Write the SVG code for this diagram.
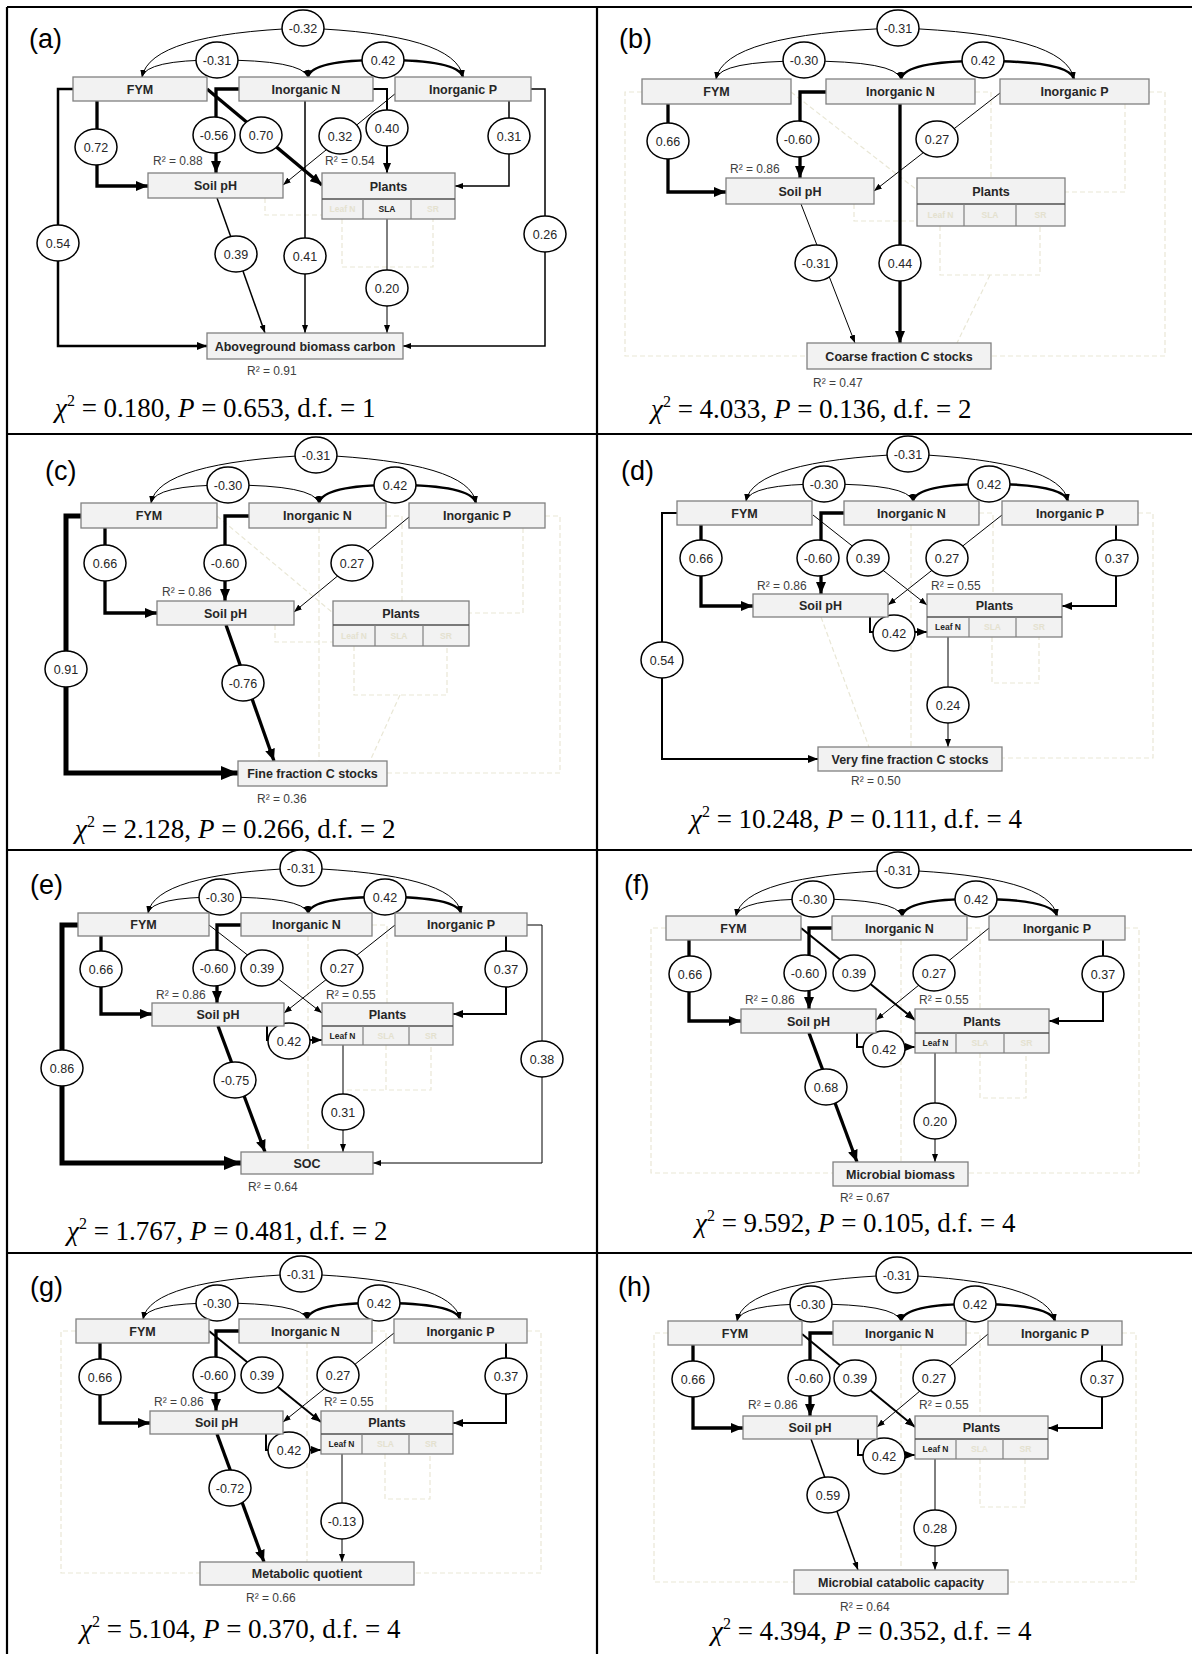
<svg xmlns="http://www.w3.org/2000/svg" width="1192" height="1654" viewBox="0 0 1192 1654">
<style>
.bg{fill:#fff}
.frame{stroke:#000;stroke-width:2.2;fill:none}
.box{fill:#f2f2f2;stroke:#808080;stroke-width:1.3}
.sep{stroke:#505050;stroke-width:1.6}
.cell{stroke:#808080;stroke-width:1.2}
.bl{font-family:"Liberation Sans",Arial,sans-serif;font-weight:bold;font-size:12.5px;fill:#262626;text-anchor:middle}
.sl{font-family:"Liberation Sans",Arial,sans-serif;font-weight:bold;font-size:8.5px;fill:#262626;text-anchor:middle}
.fz{fill:#e4e1cf}
.ce{fill:#fff;stroke:#000;stroke-width:1.5}
.cn{font-family:"Liberation Sans",Arial,sans-serif;font-size:12.5px;fill:#262626;text-anchor:middle}
.r2{font-family:"Liberation Sans",Arial,sans-serif;font-size:12px;fill:#404040}
.pl{font-family:"Liberation Sans",Arial,sans-serif;font-size:27px;fill:#000}
.chi{font-family:"Liberation Serif","Times New Roman",serif;font-size:27px;fill:#000}
.it{font-style:italic}
.sup{font-size:16px}
.e{fill:none;stroke:#000}
.w1{stroke-width:1}
.w15{stroke-width:1.5}
.w2{stroke-width:2}
.w25{stroke-width:2.5}
.w3{stroke-width:3.3}
.w5{stroke-width:5}
.fd{fill:none;stroke:#e9e7d6;stroke-width:1.2;stroke-dasharray:5 3}
</style>
<defs>
<marker id="aS" viewBox="0 0 8 6" refX="8" refY="3" markerWidth="8" markerHeight="6" markerUnits="userSpaceOnUse" orient="auto"><path d="M0,0L8,3L0,6z"/></marker>
<marker id="aM" viewBox="0 0 10 8" refX="10" refY="4" markerWidth="10" markerHeight="8" markerUnits="userSpaceOnUse" orient="auto"><path d="M0,0L10,4L0,8z"/></marker>
<marker id="aL" viewBox="0 0 12 10" refX="12" refY="5" markerWidth="12" markerHeight="10" markerUnits="userSpaceOnUse" orient="auto"><path d="M0,0L12,5L0,10z"/></marker>
<marker id="aX" viewBox="0 0 17 14" refX="17" refY="7" markerWidth="17" markerHeight="14" markerUnits="userSpaceOnUse" orient="auto"><path d="M0,0L17,7L0,14z"/></marker>
<marker id="aC" viewBox="0 0 7 6" refX="7" refY="3" markerWidth="7" markerHeight="6" markerUnits="userSpaceOnUse" orient="auto-start-reverse"><path d="M0,0L7,3L0,6z"/></marker>
</defs>
<rect class="bg" x="0" y="0" width="1192" height="1654"/>
<g id="frame">
<path class="frame" d="M7,7H1192M7,7V1654M597,7V1654M7,434H1192M7,850H1192M7,1253H1192"/>
</g>

<!-- ===== Panel (a) ===== -->
<g id="panel-a">
<text class="pl" x="29" y="48">(a)</text>
<g id="a-faint"><path class="fd" d="M265,198V215H322M342,219V267H433V219"/></g>
<g id="a-connectors">
<path class="e w1" marker-start="url(#aC)" marker-end="url(#aC)" d="M142,77Q150,34 303,28Q456,34 463,77"/>
<path class="e w1" marker-start="url(#aC)" marker-end="url(#aC)" d="M142,77Q146,60 217,60Q302,60 308,77"/>
<path class="e w25" marker-start="url(#aC)" marker-end="url(#aC)" d="M308,77Q312,60 383,60Q458,60 463,77"/>
<path class="e w3" marker-end="url(#aL)" d="M97,101V186H148"/>
<path class="e w3" marker-end="url(#aL)" d="M239,89H216V173"/>
<path class="e w3" marker-end="url(#aL)" d="M207,89L322,185"/>
<path class="e w1" marker-end="url(#aS)" d="M396,93L283,185"/>
<path class="e w2" marker-end="url(#aM)" d="M373,89H387V173"/>
<path class="e w15" marker-end="url(#aS)" d="M509,101V186H455"/>
<path class="e w25" marker-end="url(#aM)" d="M73,89H58V346H207"/>
<path class="e w15" marker-end="url(#aS)" d="M217,198L265,333"/>
<path class="e w15" marker-end="url(#aS)" d="M305,101V333"/>
<path class="e w1" marker-end="url(#aS)" d="M387,219V333"/>
<path class="e w15" marker-end="url(#aS)" d="M531,89H545V346H403"/>
<g><ellipse class="ce" cx="303" cy="28" rx="21" ry="18"/><text class="cn" x="303" y="32.5">-0.32</text></g>
<g><ellipse class="ce" cx="217" cy="60" rx="21" ry="18"/><text class="cn" x="217" y="64.5">-0.31</text></g>
<g><ellipse class="ce" cx="383" cy="60" rx="21" ry="18"/><text class="cn" x="383" y="64.5">0.42</text></g>
<g><ellipse class="ce" cx="96" cy="147" rx="21" ry="18"/><text class="cn" x="96" y="151.5">0.72</text></g>
<g><ellipse class="ce" cx="214" cy="135" rx="21" ry="18"/><text class="cn" x="214" y="139.5">-0.56</text></g>
<g><ellipse class="ce" cx="261" cy="135" rx="21" ry="18"/><text class="cn" x="261" y="139.5">0.70</text></g>
<g><ellipse class="ce" cx="340" cy="136" rx="21" ry="18"/><text class="cn" x="340" y="140.5">0.32</text></g>
<g><ellipse class="ce" cx="387" cy="128" rx="21" ry="18"/><text class="cn" x="387" y="132.5">0.40</text></g>
<g><ellipse class="ce" cx="509" cy="136" rx="21" ry="18"/><text class="cn" x="509" y="140.5">0.31</text></g>
<g><ellipse class="ce" cx="58" cy="243" rx="21" ry="18"/><text class="cn" x="58" y="247.5">0.54</text></g>
<g><ellipse class="ce" cx="236" cy="254" rx="21" ry="18"/><text class="cn" x="236" y="258.5">0.39</text></g>
<g><ellipse class="ce" cx="305" cy="256" rx="21" ry="18"/><text class="cn" x="305" y="260.5">0.41</text></g>
<g><ellipse class="ce" cx="387" cy="288" rx="21" ry="18"/><text class="cn" x="387" y="292.5">0.20</text></g>
<g><ellipse class="ce" cx="545" cy="234" rx="21" ry="18"/><text class="cn" x="545" y="238.5">0.26</text></g>
</g>
<g id="a-fym"><rect class="box" x="73" y="77" width="134" height="24"/><text class="bl" x="140" y="93.5">FYM</text></g>
<g id="a-n"><rect class="box" x="239" y="77" width="134" height="24"/><text class="bl" x="306" y="93.5">Inorganic N</text></g>
<g id="a-p"><rect class="box" x="395" y="77" width="136" height="24"/><text class="bl" x="463" y="93.5">Inorganic P</text></g>
<g id="a-ph"><rect class="box" x="148" y="173" width="135" height="25"/><text class="bl" x="215.5" y="190">Soil pH</text></g>
<g id="a-plants"><rect class="box" x="322" y="173" width="133" height="46"/><line class="sep" x1="322" y1="199" x2="455" y2="199"/><line class="cell" x1="363" y1="199" x2="363" y2="219"/><line class="cell" x1="411" y1="199" x2="411" y2="219"/><text class="bl" x="388.5" y="190.5">Plants</text><text class="sl fz" x="342.5" y="212">Leaf N</text><text class="sl" x="387" y="212">SLA</text><text class="sl fz" x="433" y="212">SR</text></g>
<g id="a-agb"><rect class="box" x="207" y="333" width="196" height="26"/><text class="bl" x="305" y="350.5">Aboveground biomass carbon</text></g>
<text class="r2" x="153" y="165">R² = 0.88</text>
<text class="r2" x="325" y="165">R² = 0.54</text>
<text class="r2" x="247" y="375">R² = 0.91</text>
<text class="chi" x="55" y="417"><tspan class="it">χ</tspan><tspan class="sup" dy="-11">2</tspan><tspan dy="11"> = 0.180, </tspan><tspan class="it">P</tspan> = 0.653, d.f. = 1</text>
</g>

<!-- ===== Panel (b) ===== -->
<g id="panel-b">
<text class="pl" x="619" y="48">(b)</text>
<g id="b-faint"><path class="fd" d="M642,92H625V356H807M1149,92H1165V356H991M791,92L917,190M975,92H991V178M1125,104V192H1065M854,204V221H917M940,226V275H1040V226M990,275L957,343"/></g>
<g id="b-connectors">
<path class="e w1" marker-start="url(#aC)" marker-end="url(#aC)" d="M716,79Q724,34 898,28Q1066,34 1074,79"/>
<path class="e w1" marker-start="url(#aC)" marker-end="url(#aC)" d="M716,79Q720,61 804,61Q896,61 901,79"/>
<path class="e w25" marker-start="url(#aC)" marker-end="url(#aC)" d="M901,79Q905,61 983,61Q1069,61 1074,79"/>
<path class="e w3" marker-end="url(#aL)" d="M668,104V192H726"/>
<path class="e w3" marker-end="url(#aL)" d="M826,92H800V178"/>
<path class="e w1" marker-end="url(#aS)" d="M1000,93L874,191"/>
<path class="e w1" marker-end="url(#aS)" d="M801,204L855,343"/>
<path class="e w3" marker-end="url(#aL)" d="M900,104V343"/>
<g><ellipse class="ce" cx="898" cy="28" rx="21" ry="18"/><text class="cn" x="898" y="32.5">-0.31</text></g>
<g><ellipse class="ce" cx="804" cy="60" rx="21" ry="18"/><text class="cn" x="804" y="64.5">-0.30</text></g>
<g><ellipse class="ce" cx="983" cy="60" rx="21" ry="18"/><text class="cn" x="983" y="64.5">0.42</text></g>
<g><ellipse class="ce" cx="668" cy="141" rx="21" ry="18"/><text class="cn" x="668" y="145.5">0.66</text></g>
<g><ellipse class="ce" cx="798" cy="139" rx="21" ry="18"/><text class="cn" x="798" y="143.5">-0.60</text></g>
<g><ellipse class="ce" cx="937" cy="139" rx="21" ry="18"/><text class="cn" x="937" y="143.5">0.27</text></g>
<g><ellipse class="ce" cx="816" cy="263" rx="21" ry="18"/><text class="cn" x="816" y="267.5">-0.31</text></g>
<g><ellipse class="ce" cx="900" cy="263" rx="21" ry="18"/><text class="cn" x="900" y="267.5">0.44</text></g>
</g>
<g id="b-fym"><rect class="box" x="642" y="79" width="149" height="25"/><text class="bl" x="716.5" y="96">FYM</text></g>
<g id="b-n"><rect class="box" x="826" y="79" width="149" height="25"/><text class="bl" x="900.5" y="96">Inorganic N</text></g>
<g id="b-p"><rect class="box" x="1000" y="79" width="149" height="25"/><text class="bl" x="1074.5" y="96">Inorganic P</text></g>
<g id="b-ph"><rect class="box" x="726" y="178" width="148" height="26"/><text class="bl" x="800" y="195.5">Soil pH</text></g>
<g id="b-plants"><rect class="box" x="917" y="178" width="148" height="48"/><line class="sep" x1="917" y1="204" x2="1065" y2="204"/><line class="cell" x1="964" y1="204" x2="964" y2="226"/><line class="cell" x1="1016" y1="204" x2="1016" y2="226"/><text class="bl" x="991" y="195.5">Plants</text><text class="sl fz" x="940.5" y="218">Leaf N</text><text class="sl fz" x="990" y="218">SLA</text><text class="sl fz" x="1040.5" y="218">SR</text></g>
<g id="b-coarse"><rect class="box" x="807" y="343" width="184" height="26"/><text class="bl" x="899" y="360.5">Coarse fraction C stocks</text></g>
<text class="r2" x="730" y="173">R² = 0.86</text>
<text class="r2" x="813" y="387">R² = 0.47</text>
<text class="chi" x="651" y="418"><tspan class="it">χ</tspan><tspan class="sup" dy="-11">2</tspan><tspan dy="11"> = 4.033, </tspan><tspan class="it">P</tspan> = 0.136, d.f. = 2</text>
</g>

<!-- ===== Panel (c) ===== -->
<g id="panel-c">
<text class="pl" x="45" y="480">(c)</text>
<g id="c-faint"><path class="fd" d="M217,516L333,613M319,528V761M386,516H402V601M523,528V613H469M545,516H560V773H387M275,625V642H333M354,646V695H447V646M400,695L370,761"/></g>
<g id="c-connectors">
<path class="e w1" marker-start="url(#aC)" marker-end="url(#aC)" d="M151,503Q158,462 316,455Q470,462 476,503"/>
<path class="e w1" marker-start="url(#aC)" marker-end="url(#aC)" d="M151,503Q155,485 228,485Q314,485 319,503"/>
<path class="e w25" marker-start="url(#aC)" marker-end="url(#aC)" d="M319,503Q323,485 395,485Q471,485 476,503"/>
<path class="e w3" marker-end="url(#aL)" d="M105,528V613H157"/>
<path class="e w3" marker-end="url(#aL)" d="M249,516H225V601"/>
<path class="e w1" marker-end="url(#aS)" d="M409,517L294,612"/>
<path class="e w3" marker-end="url(#aL)" d="M226,625L274,761"/>
<path class="e w5" marker-end="url(#aX)" d="M81,516H66V773H238"/>
<g><ellipse class="ce" cx="316" cy="455" rx="21" ry="18"/><text class="cn" x="316" y="459.5">-0.31</text></g>
<g><ellipse class="ce" cx="228" cy="485" rx="21" ry="18"/><text class="cn" x="228" y="489.5">-0.30</text></g>
<g><ellipse class="ce" cx="395" cy="485" rx="21" ry="18"/><text class="cn" x="395" y="489.5">0.42</text></g>
<g><ellipse class="ce" cx="105" cy="563" rx="21" ry="18"/><text class="cn" x="105" y="567.5">0.66</text></g>
<g><ellipse class="ce" cx="225" cy="563" rx="21" ry="18"/><text class="cn" x="225" y="567.5">-0.60</text></g>
<g><ellipse class="ce" cx="352" cy="563" rx="21" ry="18"/><text class="cn" x="352" y="567.5">0.27</text></g>
<g><ellipse class="ce" cx="66" cy="669" rx="21" ry="18"/><text class="cn" x="66" y="673.5">0.91</text></g>
<g><ellipse class="ce" cx="243" cy="683" rx="21" ry="18"/><text class="cn" x="243" y="687.5">-0.76</text></g>
</g>
<g id="c-fym"><rect class="box" x="81" y="503" width="136" height="25"/><text class="bl" x="149" y="520">FYM</text></g>
<g id="c-n"><rect class="box" x="249" y="503" width="137" height="25"/><text class="bl" x="317.5" y="520">Inorganic N</text></g>
<g id="c-p"><rect class="box" x="409" y="503" width="136" height="25"/><text class="bl" x="477" y="520">Inorganic P</text></g>
<g id="c-ph"><rect class="box" x="157" y="601" width="137" height="24"/><text class="bl" x="225.5" y="617.5">Soil pH</text></g>
<g id="c-plants"><rect class="box" x="333" y="601" width="136" height="45"/><line class="sep" x1="333" y1="625" x2="469" y2="625"/><line class="cell" x1="375" y1="625" x2="375" y2="646"/><line class="cell" x1="423" y1="625" x2="423" y2="646"/><text class="bl" x="401" y="617.5">Plants</text><text class="sl fz" x="354" y="638.5">Leaf N</text><text class="sl fz" x="399" y="638.5">SLA</text><text class="sl fz" x="446" y="638.5">SR</text></g>
<g id="c-fine"><rect class="box" x="238" y="761" width="149" height="25"/><text class="bl" x="312.5" y="778">Fine fraction C stocks</text></g>
<text class="r2" x="162" y="596">R² = 0.86</text>
<text class="r2" x="257" y="803">R² = 0.36</text>
<text class="chi" x="75" y="838"><tspan class="it">χ</tspan><tspan class="sup" dy="-11">2</tspan><tspan dy="11"> = 2.128, </tspan><tspan class="it">P</tspan> = 0.266, d.f. = 2</text>
</g>

<!-- ===== Panel (d) ===== -->
<g id="panel-d">
<text class="pl" x="621" y="480">(d)</text>
<g id="d-faint"><path class="fd" d="M1138,513H1153V758H1002M911,525V747M979,513H993V594M821,617L869,747M992,637V683H1039V637"/></g>
<g id="d-connectors">
<path class="e w1" marker-start="url(#aC)" marker-end="url(#aC)" d="M746,501Q753,461 908,454Q1061,461 1068,501"/>
<path class="e w1" marker-start="url(#aC)" marker-end="url(#aC)" d="M746,501Q750,484 824,484Q908,484 913,501"/>
<path class="e w25" marker-start="url(#aC)" marker-end="url(#aC)" d="M913,501Q917,484 989,484Q1063,484 1068,501"/>
<path class="e w3" marker-end="url(#aL)" d="M701,525V606H753"/>
<path class="e w3" marker-end="url(#aL)" d="M844,513H821V594"/>
<path class="e w1" marker-end="url(#aS)" d="M813,515L927,605"/>
<path class="e w1" marker-end="url(#aS)" d="M1002,515L888,605"/>
<path class="e w2" marker-end="url(#aM)" d="M1116,525V606H1062"/>
<path class="e w2" marker-end="url(#aM)" d="M870,617V632H927"/>
<path class="e w2" marker-end="url(#aM)" d="M677,513H662V759H818"/>
<path class="e w1" marker-end="url(#aS)" d="M948,637V747"/>
<g><ellipse class="ce" cx="908" cy="454" rx="21" ry="18"/><text class="cn" x="908" y="458.5">-0.31</text></g>
<g><ellipse class="ce" cx="824" cy="484" rx="21" ry="18"/><text class="cn" x="824" y="488.5">-0.30</text></g>
<g><ellipse class="ce" cx="989" cy="484" rx="21" ry="18"/><text class="cn" x="989" y="488.5">0.42</text></g>
<g><ellipse class="ce" cx="701" cy="558" rx="21" ry="18"/><text class="cn" x="701" y="562.5">0.66</text></g>
<g><ellipse class="ce" cx="818" cy="558" rx="21" ry="18"/><text class="cn" x="818" y="562.5">-0.60</text></g>
<g><ellipse class="ce" cx="868" cy="558" rx="21" ry="18"/><text class="cn" x="868" y="562.5">0.39</text></g>
<g><ellipse class="ce" cx="947" cy="558" rx="21" ry="18"/><text class="cn" x="947" y="562.5">0.27</text></g>
<g><ellipse class="ce" cx="1117" cy="558" rx="21" ry="18"/><text class="cn" x="1117" y="562.5">0.37</text></g>
<g><ellipse class="ce" cx="894" cy="633" rx="21" ry="18"/><text class="cn" x="894" y="637.5">0.42</text></g>
<g><ellipse class="ce" cx="662" cy="660" rx="21" ry="18"/><text class="cn" x="662" y="664.5">0.54</text></g>
<g><ellipse class="ce" cx="948" cy="705" rx="21" ry="18"/><text class="cn" x="948" y="709.5">0.24</text></g>
</g>
<g id="d-fym"><rect class="box" x="677" y="501" width="135" height="24"/><text class="bl" x="744.5" y="517.5">FYM</text></g>
<g id="d-n"><rect class="box" x="844" y="501" width="135" height="24"/><text class="bl" x="911.5" y="517.5">Inorganic N</text></g>
<g id="d-p"><rect class="box" x="1002" y="501" width="136" height="24"/><text class="bl" x="1070" y="517.5">Inorganic P</text></g>
<g id="d-ph"><rect class="box" x="753" y="594" width="135" height="23"/><text class="bl" x="820.5" y="610">Soil pH</text></g>
<g id="d-plants"><rect class="box" x="927" y="594" width="135" height="43"/><line class="sep" x1="927" y1="617" x2="1062" y2="617"/><line class="cell" x1="969" y1="617" x2="969" y2="637"/><line class="cell" x1="1016" y1="617" x2="1016" y2="637"/><text class="bl" x="994.5" y="610">Plants</text><text class="sl" x="948" y="630">Leaf N</text><text class="sl fz" x="992.5" y="630">SLA</text><text class="sl fz" x="1039" y="630">SR</text></g>
<g id="d-vf"><rect class="box" x="818" y="747" width="184" height="24"/><text class="bl" x="910" y="763.5">Very fine fraction C stocks</text></g>
<text class="r2" x="757" y="590">R² = 0.86</text>
<text class="r2" x="931" y="590">R² = 0.55</text>
<text class="r2" x="851" y="785">R² = 0.50</text>
<text class="chi" x="690" y="828"><tspan class="it">χ</tspan><tspan class="sup" dy="-11">2</tspan><tspan dy="11"> = 10.248, </tspan><tspan class="it">P</tspan> = 0.111, d.f. = 4</text>
</g>

<!-- ===== Panel (e) ===== -->
<g id="panel-e">
<text class="pl" x="30" y="894">(e)</text>
<g id="e-faint"><path class="fd" d="M308,936V1152M372,925H387V1003M386,1045V1090H431V1045M347,1090H386"/></g>
<g id="e-connectors">
<path class="e w1" marker-start="url(#aC)" marker-end="url(#aC)" d="M148,913Q155,874 301,868Q455,874 461,913"/>
<path class="e w1" marker-start="url(#aC)" marker-end="url(#aC)" d="M148,913Q152,897 220,897Q303,897 308,913"/>
<path class="e w25" marker-start="url(#aC)" marker-end="url(#aC)" d="M308,913Q312,897 385,897Q456,897 461,913"/>
<path class="e w3" marker-end="url(#aL)" d="M101,936V1014H152"/>
<path class="e w3" marker-end="url(#aL)" d="M241,925H217V1003"/>
<path class="e w1" marker-end="url(#aS)" d="M209,925L322,1013"/>
<path class="e w1" marker-end="url(#aS)" d="M395,925L284,1013"/>
<path class="e w2" marker-end="url(#aM)" d="M506,936V1014H453"/>
<path class="e w2" marker-end="url(#aM)" d="M267,1026V1040H322"/>
<path class="e w3" marker-end="url(#aL)" d="M218,1026L265,1152"/>
<path class="e w5" marker-end="url(#aX)" d="M78,925H62V1163H241"/>
<path class="e w1" marker-end="url(#aS)" d="M343,1045V1152"/>
<path class="e w1" marker-end="url(#aS)" d="M527,925H542V1163H373"/>
<g><ellipse class="ce" cx="301" cy="868" rx="21" ry="18"/><text class="cn" x="301" y="872.5">-0.31</text></g>
<g><ellipse class="ce" cx="220" cy="897" rx="21" ry="18"/><text class="cn" x="220" y="901.5">-0.30</text></g>
<g><ellipse class="ce" cx="385" cy="897" rx="21" ry="18"/><text class="cn" x="385" y="901.5">0.42</text></g>
<g><ellipse class="ce" cx="101" cy="969" rx="21" ry="18"/><text class="cn" x="101" y="973.5">0.66</text></g>
<g><ellipse class="ce" cx="214" cy="968" rx="21" ry="18"/><text class="cn" x="214" y="972.5">-0.60</text></g>
<g><ellipse class="ce" cx="262" cy="968" rx="21" ry="18"/><text class="cn" x="262" y="972.5">0.39</text></g>
<g><ellipse class="ce" cx="342" cy="968" rx="21" ry="18"/><text class="cn" x="342" y="972.5">0.27</text></g>
<g><ellipse class="ce" cx="506" cy="969" rx="21" ry="18"/><text class="cn" x="506" y="973.5">0.37</text></g>
<g><ellipse class="ce" cx="289" cy="1041" rx="21" ry="18"/><text class="cn" x="289" y="1045.5">0.42</text></g>
<g><ellipse class="ce" cx="62" cy="1068" rx="21" ry="18"/><text class="cn" x="62" y="1072.5">0.86</text></g>
<g><ellipse class="ce" cx="235" cy="1080" rx="21" ry="18"/><text class="cn" x="235" y="1084.5">-0.75</text></g>
<g><ellipse class="ce" cx="542" cy="1059" rx="21" ry="18"/><text class="cn" x="542" y="1063.5">0.38</text></g>
<g><ellipse class="ce" cx="343" cy="1112" rx="21" ry="18"/><text class="cn" x="343" y="1116.5">0.31</text></g>
</g>
<g id="e-fym"><rect class="box" x="78" y="913" width="131" height="23"/><text class="bl" x="143.5" y="929">FYM</text></g>
<g id="e-n"><rect class="box" x="241" y="913" width="131" height="23"/><text class="bl" x="306.5" y="929">Inorganic N</text></g>
<g id="e-p"><rect class="box" x="395" y="913" width="132" height="23"/><text class="bl" x="461" y="929">Inorganic P</text></g>
<g id="e-ph"><rect class="box" x="152" y="1003" width="132" height="23"/><text class="bl" x="218" y="1019">Soil pH</text></g>
<g id="e-plants"><rect class="box" x="322" y="1003" width="131" height="42"/><line class="sep" x1="322" y1="1026" x2="453" y2="1026"/><line class="cell" x1="363" y1="1026" x2="363" y2="1045"/><line class="cell" x1="409" y1="1026" x2="409" y2="1045"/><text class="bl" x="387.5" y="1019">Plants</text><text class="sl" x="342.5" y="1038.5">Leaf N</text><text class="sl fz" x="386" y="1038.5">SLA</text><text class="sl fz" x="431" y="1038.5">SR</text></g>
<g id="e-soc"><rect class="box" x="241" y="1152" width="132" height="22"/><text class="bl" x="307" y="1167.5">SOC</text></g>
<text class="r2" x="156" y="999">R² = 0.86</text>
<text class="r2" x="326" y="999">R² = 0.55</text>
<text class="r2" x="248" y="1191">R² = 0.64</text>
<text class="chi" x="67" y="1240"><tspan class="it">χ</tspan><tspan class="sup" dy="-11">2</tspan><tspan dy="11"> = 1.767, </tspan><tspan class="it">P</tspan> = 0.481, d.f. = 2</text>
</g>

<!-- ===== Panel (f) ===== -->
<g id="panel-f">
<text class="pl" x="624" y="894">(f)</text>
<g id="f-faint"><path class="fd" d="M666,928H651V1173H833M1125,928H1139V1173H968M901,940V1162M967,928H980V1009M980,1053V1098H1026V1053"/></g>
<g id="f-connectors">
<path class="e w1" marker-start="url(#aC)" marker-end="url(#aC)" d="M736,916Q743,876 898,870Q1050,876 1057,916"/>
<path class="e w1" marker-start="url(#aC)" marker-end="url(#aC)" d="M736,916Q740,899 813,899Q897,899 902,916"/>
<path class="e w25" marker-start="url(#aC)" marker-end="url(#aC)" d="M902,916Q906,899 976,899Q1052,899 1057,916"/>
<path class="e w3" marker-end="url(#aL)" d="M689,940V1021H741"/>
<path class="e w3" marker-end="url(#aL)" d="M832,928H809V1009"/>
<path class="e w2" marker-end="url(#aM)" d="M801,928L915,1020"/>
<path class="e w1" marker-end="url(#aS)" d="M989,928L876,1020"/>
<path class="e w2" marker-end="url(#aM)" d="M1103,940V1021H1049"/>
<path class="e w2" marker-end="url(#aM)" d="M857,1033V1047H915"/>
<path class="e w3" marker-end="url(#aL)" d="M809,1033L857,1162"/>
<path class="e w1" marker-end="url(#aS)" d="M935,1053V1162"/>
<g><ellipse class="ce" cx="898" cy="870" rx="21" ry="18"/><text class="cn" x="898" y="874.5">-0.31</text></g>
<g><ellipse class="ce" cx="813" cy="899" rx="21" ry="18"/><text class="cn" x="813" y="903.5">-0.30</text></g>
<g><ellipse class="ce" cx="976" cy="899" rx="21" ry="18"/><text class="cn" x="976" y="903.5">0.42</text></g>
<g><ellipse class="ce" cx="690" cy="974" rx="21" ry="18"/><text class="cn" x="690" y="978.5">0.66</text></g>
<g><ellipse class="ce" cx="805" cy="973" rx="21" ry="18"/><text class="cn" x="805" y="977.5">-0.60</text></g>
<g><ellipse class="ce" cx="854" cy="973" rx="21" ry="18"/><text class="cn" x="854" y="977.5">0.39</text></g>
<g><ellipse class="ce" cx="934" cy="973" rx="21" ry="18"/><text class="cn" x="934" y="977.5">0.27</text></g>
<g><ellipse class="ce" cx="1103" cy="974" rx="21" ry="18"/><text class="cn" x="1103" y="978.5">0.37</text></g>
<g><ellipse class="ce" cx="884" cy="1049" rx="21" ry="18"/><text class="cn" x="884" y="1053.5">0.42</text></g>
<g><ellipse class="ce" cx="826" cy="1087" rx="21" ry="18"/><text class="cn" x="826" y="1091.5">0.68</text></g>
<g><ellipse class="ce" cx="935" cy="1121" rx="21" ry="18"/><text class="cn" x="935" y="1125.5">0.20</text></g>
</g>
<g id="f-fym"><rect class="box" x="666" y="916" width="135" height="24"/><text class="bl" x="733.5" y="932.5">FYM</text></g>
<g id="f-n"><rect class="box" x="832" y="916" width="135" height="24"/><text class="bl" x="899.5" y="932.5">Inorganic N</text></g>
<g id="f-p"><rect class="box" x="989" y="916" width="136" height="24"/><text class="bl" x="1057" y="932.5">Inorganic P</text></g>
<g id="f-ph"><rect class="box" x="741" y="1009" width="135" height="24"/><text class="bl" x="808.5" y="1025.5">Soil pH</text></g>
<g id="f-plants"><rect class="box" x="915" y="1009" width="134" height="44"/><line class="sep" x1="915" y1="1033" x2="1049" y2="1033"/><line class="cell" x1="956" y1="1033" x2="956" y2="1053"/><line class="cell" x1="1004" y1="1033" x2="1004" y2="1053"/><text class="bl" x="982" y="1025.5">Plants</text><text class="sl" x="935.5" y="1046">Leaf N</text><text class="sl fz" x="980" y="1046">SLA</text><text class="sl fz" x="1026.5" y="1046">SR</text></g>
<g id="f-mb"><rect class="box" x="833" y="1162" width="135" height="24"/><text class="bl" x="900.5" y="1178.5">Microbial biomass</text></g>
<text class="r2" x="745" y="1004">R² = 0.86</text>
<text class="r2" x="919" y="1004">R² = 0.55</text>
<text class="r2" x="840" y="1202">R² = 0.67</text>
<text class="chi" x="695" y="1232"><tspan class="it">χ</tspan><tspan class="sup" dy="-11">2</tspan><tspan dy="11"> = 9.592, </tspan><tspan class="it">P</tspan> = 0.105, d.f. = 4</text>
</g>

<!-- ===== Panel (g) ===== -->
<g id="panel-g">
<text class="pl" x="30" y="1296">(g)</text>
<g id="g-faint"><path class="fd" d="M76,1331H61V1573H200M527,1331H541V1573H414M307,1343V1562M372,1331H386V1411M385,1454V1499H430V1454"/></g>
<g id="g-connectors">
<path class="e w1" marker-start="url(#aC)" marker-end="url(#aC)" d="M143,1319Q150,1280 301,1274Q453,1280 460,1319"/>
<path class="e w1" marker-start="url(#aC)" marker-end="url(#aC)" d="M143,1319Q147,1303 217,1303Q302,1303 307,1319"/>
<path class="e w25" marker-start="url(#aC)" marker-end="url(#aC)" d="M307,1319Q311,1303 379,1303Q455,1303 460,1319"/>
<path class="e w3" marker-end="url(#aL)" d="M100,1343V1423H150"/>
<path class="e w3" marker-end="url(#aL)" d="M239,1331H216V1411"/>
<path class="e w2" marker-end="url(#aM)" d="M209,1331L321,1422"/>
<path class="e w1" marker-end="url(#aS)" d="M394,1333L283,1422"/>
<path class="e w2" marker-end="url(#aM)" d="M506,1343V1423H453"/>
<path class="e w2" marker-end="url(#aM)" d="M266,1434V1450H321"/>
<path class="e w3" marker-end="url(#aL)" d="M217,1434L264,1562"/>
<path class="e w1" marker-end="url(#aS)" d="M342,1454V1562"/>
<g><ellipse class="ce" cx="301" cy="1274" rx="21" ry="18"/><text class="cn" x="301" y="1278.5">-0.31</text></g>
<g><ellipse class="ce" cx="217" cy="1303" rx="21" ry="18"/><text class="cn" x="217" y="1307.5">-0.30</text></g>
<g><ellipse class="ce" cx="379" cy="1303" rx="21" ry="18"/><text class="cn" x="379" y="1307.5">0.42</text></g>
<g><ellipse class="ce" cx="100" cy="1377" rx="21" ry="18"/><text class="cn" x="100" y="1381.5">0.66</text></g>
<g><ellipse class="ce" cx="214" cy="1375" rx="21" ry="18"/><text class="cn" x="214" y="1379.5">-0.60</text></g>
<g><ellipse class="ce" cx="262" cy="1375" rx="21" ry="18"/><text class="cn" x="262" y="1379.5">0.39</text></g>
<g><ellipse class="ce" cx="338" cy="1375" rx="21" ry="18"/><text class="cn" x="338" y="1379.5">0.27</text></g>
<g><ellipse class="ce" cx="506" cy="1376" rx="21" ry="18"/><text class="cn" x="506" y="1380.5">0.37</text></g>
<g><ellipse class="ce" cx="289" cy="1450" rx="21" ry="18"/><text class="cn" x="289" y="1454.5">0.42</text></g>
<g><ellipse class="ce" cx="230" cy="1488" rx="21" ry="18"/><text class="cn" x="230" y="1492.5">-0.72</text></g>
<g><ellipse class="ce" cx="342" cy="1521" rx="21" ry="18"/><text class="cn" x="342" y="1525.5">-0.13</text></g>
</g>
<g id="g-fym"><rect class="box" x="76" y="1319" width="133" height="24"/><text class="bl" x="142.5" y="1335.5">FYM</text></g>
<g id="g-n"><rect class="box" x="239" y="1319" width="133" height="24"/><text class="bl" x="305.5" y="1335.5">Inorganic N</text></g>
<g id="g-p"><rect class="box" x="394" y="1319" width="133" height="24"/><text class="bl" x="460.5" y="1335.5">Inorganic P</text></g>
<g id="g-ph"><rect class="box" x="150" y="1411" width="133" height="23"/><text class="bl" x="216.5" y="1427">Soil pH</text></g>
<g id="g-plants"><rect class="box" x="321" y="1411" width="132" height="43"/><line class="sep" x1="321" y1="1434" x2="453" y2="1434"/><line class="cell" x1="362" y1="1434" x2="362" y2="1454"/><line class="cell" x1="409" y1="1434" x2="409" y2="1454"/><text class="bl" x="387" y="1427">Plants</text><text class="sl" x="341.5" y="1447">Leaf N</text><text class="sl fz" x="385.5" y="1447">SLA</text><text class="sl fz" x="431" y="1447">SR</text></g>
<g id="g-mq"><rect class="box" x="200" y="1562" width="214" height="23"/><text class="bl" x="307" y="1578">Metabolic quotient</text></g>
<text class="r2" x="154" y="1406">R² = 0.86</text>
<text class="r2" x="324" y="1406">R² = 0.55</text>
<text class="r2" x="246" y="1602">R² = 0.66</text>
<text class="chi" x="80" y="1638"><tspan class="it">χ</tspan><tspan class="sup" dy="-11">2</tspan><tspan dy="11"> = 5.104, </tspan><tspan class="it">P</tspan> = 0.370, d.f. = 4</text>
</g>

<!-- ===== Panel (h) ===== -->
<g id="panel-h">
<text class="pl" x="618" y="1296">(h)</text>
<g id="h-faint"><path class="fd" d="M668,1333H654V1582H794M1122,1333H1136V1582H1008M901,1345V1570M966,1333H980V1416M980,1459V1507H1025V1459"/></g>
<g id="h-connectors">
<path class="e w1" marker-start="url(#aC)" marker-end="url(#aC)" d="M737,1321Q744,1281 897,1275Q1048,1281 1055,1321"/>
<path class="e w1" marker-start="url(#aC)" marker-end="url(#aC)" d="M737,1321Q741,1304 811,1304Q896,1304 901,1321"/>
<path class="e w25" marker-start="url(#aC)" marker-end="url(#aC)" d="M901,1321Q905,1304 975,1304Q1050,1304 1055,1321"/>
<path class="e w3" marker-end="url(#aL)" d="M693,1345V1428H743"/>
<path class="e w3" marker-end="url(#aL)" d="M833,1333H810V1416"/>
<path class="e w2" marker-end="url(#aM)" d="M802,1334L915,1427"/>
<path class="e w1" marker-end="url(#aS)" d="M988,1334L877,1427"/>
<path class="e w2" marker-end="url(#aM)" d="M1102,1345V1428H1048"/>
<path class="e w2" marker-end="url(#aM)" d="M858,1439V1455H915"/>
<path class="e w15" marker-end="url(#aS)" d="M811,1439L858,1570"/>
<path class="e w1" marker-end="url(#aS)" d="M935,1459V1570"/>
<g><ellipse class="ce" cx="897" cy="1275" rx="21" ry="18"/><text class="cn" x="897" y="1279.5">-0.31</text></g>
<g><ellipse class="ce" cx="811" cy="1304" rx="21" ry="18"/><text class="cn" x="811" y="1308.5">-0.30</text></g>
<g><ellipse class="ce" cx="975" cy="1304" rx="21" ry="18"/><text class="cn" x="975" y="1308.5">0.42</text></g>
<g><ellipse class="ce" cx="693" cy="1379" rx="21" ry="18"/><text class="cn" x="693" y="1383.5">0.66</text></g>
<g><ellipse class="ce" cx="809" cy="1378" rx="21" ry="18"/><text class="cn" x="809" y="1382.5">-0.60</text></g>
<g><ellipse class="ce" cx="855" cy="1378" rx="21" ry="18"/><text class="cn" x="855" y="1382.5">0.39</text></g>
<g><ellipse class="ce" cx="934" cy="1378" rx="21" ry="18"/><text class="cn" x="934" y="1382.5">0.27</text></g>
<g><ellipse class="ce" cx="1102" cy="1379" rx="21" ry="18"/><text class="cn" x="1102" y="1383.5">0.37</text></g>
<g><ellipse class="ce" cx="884" cy="1456" rx="21" ry="18"/><text class="cn" x="884" y="1460.5">0.42</text></g>
<g><ellipse class="ce" cx="828" cy="1495" rx="21" ry="18"/><text class="cn" x="828" y="1499.5">0.59</text></g>
<g><ellipse class="ce" cx="935" cy="1528" rx="21" ry="18"/><text class="cn" x="935" y="1532.5">0.28</text></g>
</g>
<g id="h-fym"><rect class="box" x="668" y="1321" width="134" height="24"/><text class="bl" x="735" y="1337.5">FYM</text></g>
<g id="h-n"><rect class="box" x="833" y="1321" width="133" height="24"/><text class="bl" x="899.5" y="1337.5">Inorganic N</text></g>
<g id="h-p"><rect class="box" x="988" y="1321" width="134" height="24"/><text class="bl" x="1055" y="1337.5">Inorganic P</text></g>
<g id="h-ph"><rect class="box" x="743" y="1416" width="134" height="23"/><text class="bl" x="810" y="1432">Soil pH</text></g>
<g id="h-plants"><rect class="box" x="915" y="1416" width="133" height="43"/><line class="sep" x1="915" y1="1439" x2="1048" y2="1439"/><line class="cell" x1="956" y1="1439" x2="956" y2="1459"/><line class="cell" x1="1003" y1="1439" x2="1003" y2="1459"/><text class="bl" x="981.5" y="1432">Plants</text><text class="sl" x="935.5" y="1452">Leaf N</text><text class="sl fz" x="979.5" y="1452">SLA</text><text class="sl fz" x="1025.5" y="1452">SR</text></g>
<g id="h-mcc"><rect class="box" x="794" y="1570" width="214" height="24"/><text class="bl" x="901" y="1586.5">Microbial catabolic capacity</text></g>
<text class="r2" x="748" y="1409">R² = 0.86</text>
<text class="r2" x="919" y="1409">R² = 0.55</text>
<text class="r2" x="840" y="1611">R² = 0.64</text>
<text class="chi" x="711" y="1640"><tspan class="it">χ</tspan><tspan class="sup" dy="-11">2</tspan><tspan dy="11"> = 4.394, </tspan><tspan class="it">P</tspan> = 0.352, d.f. = 4</text>
</g>
</svg>
